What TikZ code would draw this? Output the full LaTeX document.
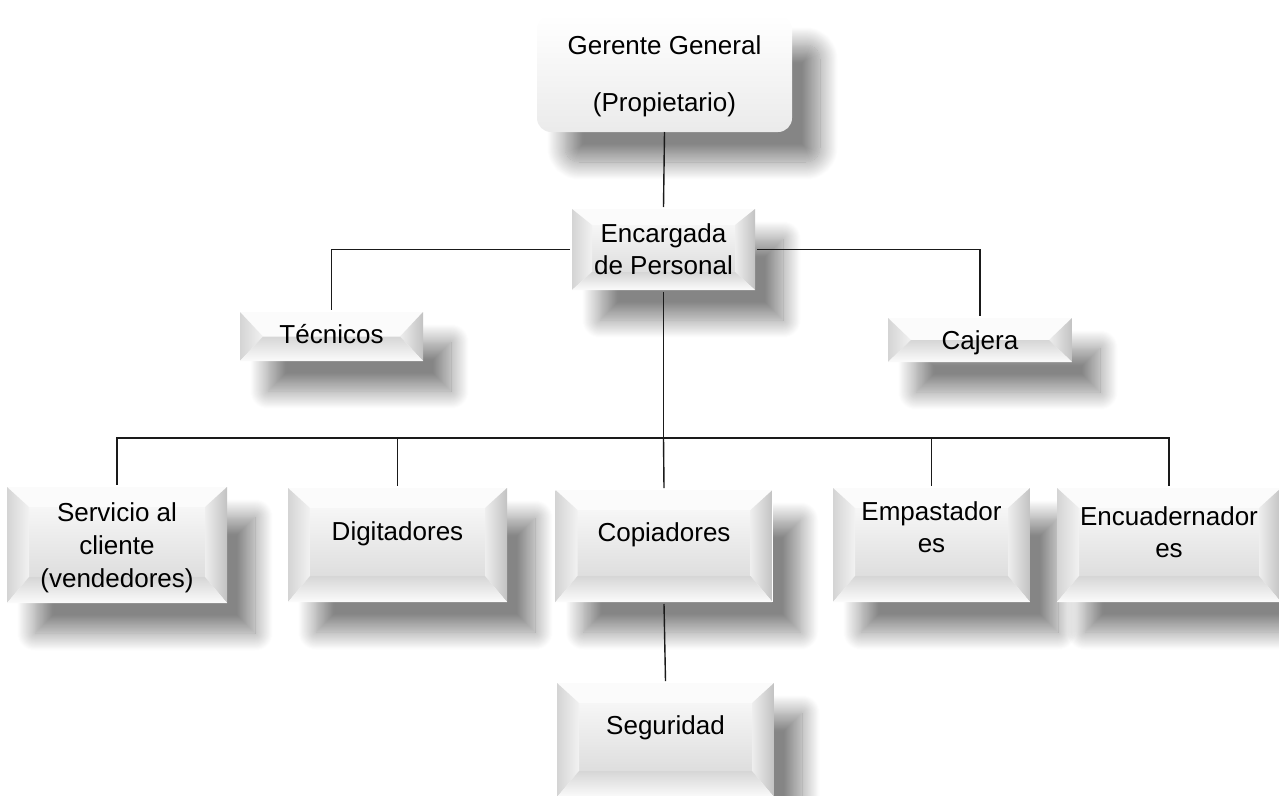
\documentclass[tikz,border=0pt]{standalone}
\usepackage{fontspec}
\setmainfont{Liberation Sans}
\usetikzlibrary{shadows.blur,calc}
\definecolor{linec}{HTML}{1A1A1A}
\definecolor{faceT}{HTML}{F6F6F6}
\definecolor{faceB}{HTML}{DEDEDE}
\definecolor{bevT}{HTML}{FBFBFB}
\definecolor{bevLo}{HTML}{D4D4D4}
\definecolor{bevLi}{HTML}{F2F2F2}
\definecolor{bevRi}{HTML}{EEEEEE}
\definecolor{bevRo}{HTML}{C2C2C2}
\definecolor{bevBi}{HTML}{D6D6D6}
\definecolor{bevBo}{HTML}{FBFBFB}
\newcommand\bevelpaint{%
  \coordinate (bvA) at (path picture bounding box.north west);
  \coordinate (bvB) at (path picture bounding box.north east);
  \coordinate (bvC) at (path picture bounding box.south east);
  \coordinate (bvD) at (path picture bounding box.south west);
  \coordinate (bva) at ([shift={(\bvl pt,-\bvt pt)}]bvA);
  \coordinate (bvb) at ([shift={(-\bvl pt,-\bvt pt)}]bvB);
  \coordinate (bvc) at ([shift={(-\bvl pt,\bvb pt)}]bvC);
  \coordinate (bvd) at ([shift={(\bvl pt,\bvb pt)}]bvD);
  \shade[top color=faceT, bottom color=faceB] (bva) rectangle (bvc);
  \fill[bevT] (bvA) -- (bvB) -- (bvb) -- (bva) -- cycle;
  \shade[left color=bevLo, right color=bevLi] (bvA) -- (bva) -- (bvd) -- (bvD) -- cycle;
  \shade[left color=bevRi, right color=bevRo] (bvB) -- (bvb) -- (bvc) -- (bvC) -- cycle;
  \shade[top color=bevBi, bottom color=bevBo] (bvd) -- (bvc) -- (bvC) -- (bvD) -- cycle;
}
\tikzset{
  bvside/.code={\def\bvl{#1}},
  bvtop/.code={\def\bvt{#1}},
  bvbot/.code={\def\bvb{#1}},
  softshadow/.style={blur shadow={shadow xshift=28pt, shadow yshift=-30pt,
      shadow blur radius=18pt, shadow blur steps=24, shadow opacity=48}},
  bevbox/.style={rectangle, fill=white, inner sep=0pt, outer sep=2pt,
    align=center, text height=19pt,
    font=\fontsize{26}{33}\selectfont,
    bvside=22, bvtop=20, bvbot=26,
    softshadow, path picture={\bevelpaint}},
  wh/.style 2 args={minimum width=#1pt, minimum height=#2pt},
  conn/.style={draw=linec, line width=1.4pt},
  topbox/.style={rectangle, rounded corners=14pt, top color=white,
    bottom color=black!8, inner sep=0pt, outer sep=0pt, align=center,
    font=\fontsize{26}{57}\selectfont, softshadow},
}
\begin{document}
\begin{tikzpicture}[x=1pt,y=-1pt]
\useasboundingbox (0,0) rectangle (1279,795);

\node[topbox, wh={255}{117}, text height=76pt, text depth=0pt] (ger) at (664.5,73.5)
  {Gerente General\\(Propietario)};
\node[bevbox, wh={183}{81}, text height=51pt, text depth=2pt, bvtop=16, bvbot=18, bvside=20,
  font=\fontsize{26}{32}\selectfont] (enc) at (663.5,249.5)
  {Encargada\\de Personal};
\node[bevbox, wh={183}{49}, text depth=6pt, bvtop=24.5, bvbot=24.5, bvside=23]
  (tec) at (331.5,336.5) {Técnicos};
\node[bevbox, wh={184}{44}, text depth=1pt, bvtop=22, bvbot=22, bvside=23]
  (caj) at (980,340) {Cajera};

\node[bevbox, wh={220}{116}, text height=85pt, text depth=0pt] (serv) at (117,545)
  {Servicio al\\cliente\\(vendedores)};
\node[bevbox, wh={219}{114}, text depth=29pt] (dig) at (397.5,545) {Digitadores};
\node[bevbox, wh={217}{112}, text depth=29pt] (cop) at (664,546) {Copiadores};
\node[bevbox, wh={197}{114}, text height=51pt, text depth=37pt,
  font=\fontsize{26}{32}\selectfont] (emp) at (931.5,545) {Empastador\\es};
\node[bevbox, wh={224}{114}, text height=51pt, text depth=27pt,
  font=\fontsize{26}{32}\selectfont] (enu) at (1169,545) {Encuadernador\\es};
\node[bevbox, wh={217}{114}, text depth=31pt] (seg) at (665.5,740) {Seguridad};

\coordinate (bus) at (663.5,438);
\draw[conn] (ger.south) -- (enc.north);
\draw[conn] (enc.west) -| (tec.north);
\draw[conn] (enc.east) -| (caj.north);
\draw[conn] (enc.south) -- (bus);
\draw[conn] (bus) -| (serv.north);
\draw[conn] (bus) -| (dig.north);
\draw[conn] (bus) -- (cop.north);
\draw[conn] (bus) -| (emp.north);
\draw[conn] (bus) -| (enu.north);
\draw[conn] (cop.south) -- (seg.north);
\end{tikzpicture}
\end{document}
